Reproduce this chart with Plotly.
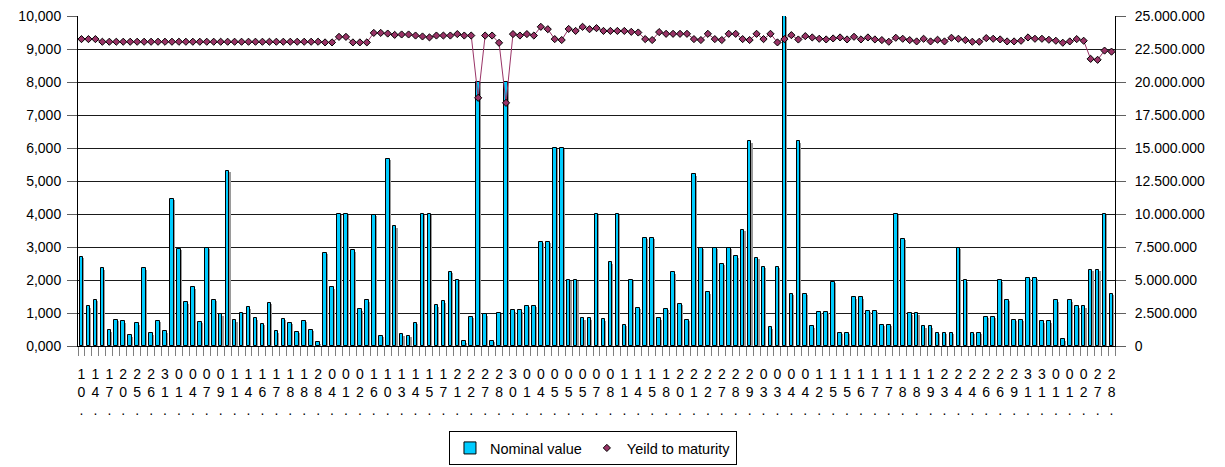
import plotly.graph_objects as go

# First characters of the maturity dates, printed under every second bond
date_labels = [
    "10.", "14.", "17.", "20.", "25.", "26.", "31.", "01.", "04.", "07.", "09.", "11.", "14.",
    "16.", "17.", "18.", "18.", "28.", "04.", "01.", "02.", "16.", "10.", "13.", "14.", "15.",
    "17.", "21.", "22.", "27.", "28.", "30.", "01.", "04.", "05.", "05.", "05.", "07.", "08.",
    "11.", "14.", "15.", "18.", "20.", "21.", "22.", "27.", "28.", "29.", "03.",
    "03.", "04.", "04.", "12.", "15.", "15.", "16.", "17.", "17.", "18.", "18.", "19.", "23.",
    "24.", "24.", "26.", "26.", "29.", "31.", "31.", "01.", "01.", "02.", "27.", "28.",
]

# Nominal value of each issue (left axis)
nominal_value = [
    2.70, 1.20, 1.40, 2.35, 0.47, 0.80, 0.75, 0.32, 0.69, 2.35,
    0.38, 0.76, 0.44, 4.45, 2.95, 1.32, 1.78, 0.74, 2.97, 1.40,
    0.96, 5.30, 0.78, 1.00, 1.17, 0.84, 0.68, 1.31, 0.44, 0.82,
    0.70, 0.42, 0.77, 0.50, 0.11, 2.82, 1.78, 4.00, 4.00, 2.90,
    1.11, 1.38, 3.97, 0.31, 5.68, 3.63, 0.35, 0.31, 0.70, 4.00,
    4.00, 1.23, 1.35, 2.25, 2.00, 0.14, 0.88, 8.00, 0.96, 0.15,
    1.01, 8.00, 1.08, 1.08, 1.22, 1.22, 3.16, 3.16, 6.00, 6.00,
    2.00, 2.00, 0.84, 0.84, 4.00, 0.81, 2.54, 4.00, 0.65, 2.00,
    1.16, 3.27, 3.27, 0.84, 1.12, 2.23, 1.28, 0.79, 5.20, 2.97,
    1.63, 2.97, 2.50, 2.97, 2.72, 3.53, 6.20, 2.68, 2.40, 0.57,
    2.40, 10.00, 1.59, 6.20, 1.59, 0.60, 1.04, 1.04, 1.94, 0.39,
    0.39, 1.47, 1.47, 1.07, 1.07, 0.64, 0.64, 4.00, 3.24, 0.99,
    0.99, 0.60, 0.60, 0.39, 0.39, 0.39, 2.98, 1.99, 0.39, 0.39,
    0.89, 0.89, 1.99, 1.39, 0.79, 0.79, 2.07, 2.07, 0.75, 0.75,
    1.38, 0.20, 1.38, 1.20, 1.20, 2.31, 2.31, 4.00, 1.59,
]

# Yield to maturity of each issue (right axis)
yield_to_maturity = [
    23250000, 23250000, 23250000, 23050000, 23050000, 23050000, 23050000, 23050000, 23050000, 23050000,
    23050000, 23050000, 23050000, 23050000, 23050000, 23050000, 23050000, 23050000, 23050000, 23050000,
    23050000, 23050000, 23050000, 23050000, 23050000, 23050000, 23050000, 23050000, 23050000, 23050000,
    23050000, 23050000, 23050000, 23050000, 23050000, 23000000, 23000000, 23420000, 23420000, 23000000,
    23000000, 23000000, 23720000, 23720000, 23670000, 23570000, 23600000, 23600000, 23520000, 23450000,
    23380000, 23520000, 23520000, 23520000, 23630000, 23520000, 23520000, 18800000, 23520000, 23520000,
    22970000, 18420000, 23630000, 23520000, 23630000, 23520000, 24180000, 24000000, 23250000, 23180000,
    24020000, 23870000, 24180000, 24000000, 24080000, 23870000, 23870000, 23870000, 23870000, 23800000,
    23750000, 23250000, 23180000, 23780000, 23650000, 23650000, 23650000, 23650000, 23250000, 23180000,
    23650000, 23250000, 23180000, 23650000, 23650000, 23250000, 23180000, 23650000, 23250000, 23650000,
    23000000, 23250000, 23550000, 23220000, 23475000, 23375000, 23275000, 23225000, 23300000, 23375000,
    23225000, 23425000, 23225000, 23375000, 23225000, 23175000, 23050000, 23350000, 23275000, 23175000,
    23075000, 23275000, 23075000, 23200000, 23075000, 23350000, 23275000, 23175000, 23050000, 23050000,
    23325000, 23275000, 23225000, 23075000, 23075000, 23125000, 23375000, 23275000, 23275000, 23200000,
    23125000, 22975000, 23075000, 23250000, 23125000, 21750000, 21680000, 22380000, 22300000,
]

left_axis_ticks = [0, 1, 2, 3, 4, 5, 6, 7, 8, 9, 10]
right_axis_ticks = [0, 2500000, 5000000, 7500000, 10000000, 12500000,
                    15000000, 17500000, 20000000, 22500000, 25000000]

FONT = "Liberation Sans, Arial, sans-serif"
BAR_COLOR = "#00CCFF"
LINE_COLOR = "#993366"

positions = list(range(len(nominal_value)))
label_positions = positions[::2]
label_text = ["<br>".join(lbl) for lbl in date_labels]

bar_width = 0.52

fig = go.Figure()

# thin drop shadow to the right of each column
fig.add_trace(go.Bar(
    x=positions, y=nominal_value, base=-0.04,
    width=bar_width, offset=-bar_width / 2 + 0.16,
    marker=dict(color="#9a9a9a", line=dict(width=0)),
    showlegend=False, hoverinfo="skip",
))

fig.add_trace(go.Bar(
    x=positions, y=nominal_value, name="Nominal value",
    width=bar_width, offset=-bar_width / 2,
    marker=dict(color=BAR_COLOR, line=dict(color="black", width=1)),
))

fig.add_trace(go.Scatter(
    x=positions, y=yield_to_maturity, yaxis="y2", mode="lines",
    line=dict(color=LINE_COLOR, width=1), showlegend=False, hoverinfo="skip",
))

fig.add_trace(go.Scatter(
    x=positions, y=yield_to_maturity, yaxis="y2", mode="markers",
    name="Yeild to maturity",
    marker=dict(symbol="diamond", size=5.5, color=LINE_COLOR,
                line=dict(color="black", width=1)),
))

fig.update_layout(
    width=1225, height=467, autosize=False,
    margin=dict(l=78, r=110, t=16, b=121, pad=0, autoexpand=False),
    paper_bgcolor="white", plot_bgcolor="white",
    barmode="overlay", bargap=0,
    font=dict(family=FONT, size=14, color="black"),
    xaxis=dict(
        range=[-0.5, len(nominal_value) - 0.5], automargin=False,
        tickmode="array", tickvals=label_positions, ticktext=label_text,
        tickfont=dict(family=FONT, size=14, color="black"),
        ticks="outside", ticklen=15, tickcolor="rgba(0,0,0,0)",
        minor=dict(tickmode="linear", tick0=-0.5, dtick=1, ticks="outside",
                   ticklen=9, tickcolor="#808080", tickwidth=1, showgrid=False),
        showline=True, linecolor="black", linewidth=1,
        showgrid=False, zeroline=False, tickangle=0,
    ),
    yaxis=dict(
        range=[0, 10], automargin=False,
        tickmode="array", tickvals=left_axis_ticks,
        ticktext=[f"{v:.3f}".replace(".", ",") for v in left_axis_ticks],
        tickfont=dict(family=FONT, size=14, color="black"),
        ticks="outside", ticklen=10, tickcolor="#606060", ticklabelstandoff=3,
        showline=True, linecolor="black", linewidth=1,
        showgrid=True, gridcolor="#1a1a1a", gridwidth=1, zeroline=False,
    ),
    yaxis2=dict(
        range=[0, 25000000], overlaying="y", side="right", automargin=False,
        tickmode="array", tickvals=right_axis_ticks,
        ticktext=[f"{v:,.0f}".replace(",", ".") for v in right_axis_ticks],
        tickfont=dict(family=FONT, size=14, color="black"),
        ticks="outside", ticklen=10, tickcolor="#606060", ticklabelstandoff=6,
        showline=True, linecolor="black", linewidth=1,
        showgrid=False, zeroline=False,
    ),
    legend=dict(
        orientation="h", x=0.4966, xanchor="center", y=-0.3606, yanchor="bottom",
        bordercolor="black", borderwidth=1, bgcolor="white",
        font=dict(family=FONT, size=14.5, color="black"),
        traceorder="normal", tracegroupgap=0,
    ),
)

fig.write_html("out.html")
